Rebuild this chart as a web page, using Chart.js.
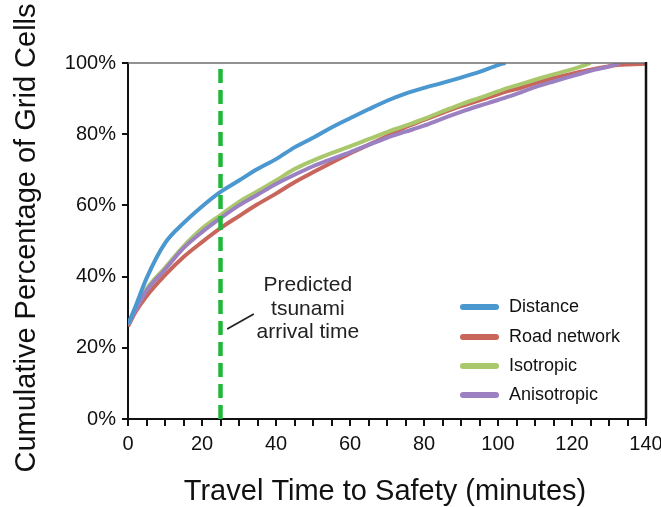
<!DOCTYPE html>
<html lang="en">
<head>
<meta charset="UTF-8">
<title>Travel Time to Safety</title>
<script src="https://cdn.jsdelivr.net/npm/chart.js@4"></script>
<style>
  html, body { margin: 0; padding: 0; background: #fff; }
  #wrap { width: 661px; height: 507px; }
</style>
</head>
<body>
<div id="wrap"><canvas id="myChart"></canvas></div>
<script>
// minutes on x, cumulative % of grid cells on y (null = curve already ended)
const minutes = [0, 2, 5, 10, 15, 20, 25, 30, 35, 40, 45, 50, 55, 60, 65, 70, 75, 80, 85, 90, 95, 100, 102, 105, 110, 115, 120, 124, 125, 130, 133, 135, 140];

const distance = [26.5, 31.5, 39.5, 49.4, 55, 59.7, 63.8, 67, 70.2, 73, 76.3, 79, 81.9, 84.5, 87, 89.4, 91.4, 93, 94.4, 95.9, 97.5, 99.4, 100,
  null, null, null, null, null, null, null, null, null, null];
const roadNetwork = [26, 30, 34.5, 40.4, 45.5, 49.7, 53.6, 57, 60.3, 63.3, 66.5, 69.3, 72, 74.6, 77, 79.5, 82, 84, 86, 87.9, 89.5, 91.2, 91.9,
  92.7, 94.3, 95.8, 97, 97.9, 98.1, 99.1, 99.5, 99.6, 99.8];
const isotropic = [26.5, 31, 36.5, 42.5, 48.5, 53.5, 57.3, 61, 64, 67, 70.2, 72.6, 74.7, 76.6, 78.6, 80.6, 82.4, 84.3, 86.4, 88.4, 90.2, 92, 92.8,
  93.7, 95.3, 96.8, 98.2, 99.6, 100, null, null, null, null];
const anisotropic = [26.5, 30.5, 36, 42, 48, 52.5, 56.4, 60, 63, 66, 68.6, 71, 73, 74.9, 77, 79, 80.7, 82.4, 84.4, 86.3, 88, 89.6, 90.3,
  91.3, 93.2, 94.8, 96.3, 97.5, 97.8, 99, 100, null, null];

const seriesNames = ['Distance', 'Road network', 'Isotropic', 'Anisotropic'];
const seriesColors = ['#4b97cf', '#c9665c', '#a9c76b', '#9b80c2'];

const arrivalTime = 25;   // predicted tsunami arrival (minutes)
const xTicks = [0, 20, 40, 60, 80, 100, 120, 140];

function pts(vals) {
    return minutes.map(function (m, i) { return { x: m, y: vals[i] }; });
}

const FONT = '"Liberation Sans", Arial, Helvetica, sans-serif';
Chart.defaults.font.family = FONT;

const extras = {
    id: 'extras',
    afterDraw(chart) {
        const ctx = chart.ctx;
        const a = chart.chartArea;
        const xs = chart.scales.x, ys = chart.scales.y;
        ctx.save();

        // top border (grey) and right border (black)
        ctx.strokeStyle = '#6e6e6e';
        ctx.lineWidth = 1.5;
        ctx.beginPath();
        ctx.moveTo(a.left, a.top);
        ctx.lineTo(a.right, a.top);
        ctx.stroke();
        ctx.strokeStyle = '#111';
        ctx.lineWidth = 2.5;
        ctx.beginPath();
        ctx.moveTo(a.right, a.top - 1);
        ctx.lineTo(a.right, a.bottom);
        ctx.stroke();

        // axis titles
        ctx.fillStyle = '#111';
        ctx.font = '29px ' + FONT;
        ctx.textAlign = 'center';
        ctx.textBaseline = 'middle';
        ctx.fillText('Travel Time to Safety (minutes)', 385, 492);
        ctx.save();
        ctx.translate(27, 238);
        ctx.rotate(-Math.PI / 2);
        ctx.fillText('Cumulative Percentage of Grid Cells', 0, 0);
        ctx.restore();

        // annotation
        ctx.font = '21px ' + FONT;
        ctx.fillStyle = '#222';
        const tx = xs.getPixelForValue(48.6);
        ctx.fillText('Predicted', tx, ys.getPixelForValue(37.6));
        ctx.fillText('tsunami', tx, ys.getPixelForValue(30.9));
        ctx.fillText('arrival time', tx, ys.getPixelForValue(24.4));
        ctx.strokeStyle = '#222';
        ctx.lineWidth = 1.8;
        ctx.beginPath();
        ctx.moveTo(xs.getPixelForValue(26.8), ys.getPixelForValue(25.3));
        ctx.lineTo(xs.getPixelForValue(34), ys.getPixelForValue(29.5));
        ctx.stroke();

        // legend inside plot
        ctx.font = '18px ' + FONT;
        ctx.textAlign = 'left';
        ctx.lineCap = 'round';
        const rows = [112, 82, 53, 24];
        for (let i = 0; i < seriesNames.length; i++) {
            const y = a.bottom - rows[i];
            ctx.strokeStyle = seriesColors[i];
            ctx.lineWidth = 6;
            ctx.beginPath();
            ctx.moveTo(a.right - 183, y);
            ctx.lineTo(a.right - 150, y);
            ctx.stroke();
            ctx.fillStyle = '#111';
            ctx.fillText(seriesNames[i], a.right - 137, y);
        }
        ctx.restore();
    }
};

const lineStyle = { borderWidth: 4, pointRadius: 0, cubicInterpolationMode: 'monotone', fill: false };

const config = {
    type: 'line',
    data: {
        datasets: [
            { label: 'arrival', data: [{ x: arrivalTime, y: 0 }, { x: arrivalTime, y: 99 }],
              borderColor: '#21b83a', borderWidth: 4.5, borderDash: [14, 7], pointRadius: 0, fill: false },
            Object.assign({ label: seriesNames[0], data: pts(distance), borderColor: seriesColors[0] }, lineStyle),
            Object.assign({ label: seriesNames[3], data: pts(anisotropic), borderColor: seriesColors[3] }, lineStyle),
            Object.assign({ label: seriesNames[2], data: pts(isotropic), borderColor: seriesColors[2] }, lineStyle),
            Object.assign({ label: seriesNames[1], data: pts(roadNetwork), borderColor: seriesColors[1] }, lineStyle)
        ]
    },
    options: {
        responsive: true,
        maintainAspectRatio: false,
        animation: false,
        layout: { padding: { top: 63, right: 15, left: 0, bottom: 0 } },
        plugins: { legend: { display: false }, tooltip: { enabled: false } },
        scales: {
            x: {
                type: 'linear', min: 0, max: 140,
                afterFit: function (s) { s.height = 88; s.paddingLeft = 0; s.paddingRight = 0; },
                afterBuildTicks: function (s) {
                    const t = [];
                    for (let v = 0; v <= 140; v += 5) t.push({ value: v });
                    s.ticks = t;
                },
                ticks: {
                    autoSkip: false, maxRotation: 0, padding: 6, color: '#111',
                    font: { size: 20 },
                    callback: function (v) { return xTicks.indexOf(v) >= 0 ? String(v) : ''; }
                },
                grid: { drawOnChartArea: false, drawTicks: true, tickLength: 7, color: '#111', lineWidth: 2 },
                border: { display: true, color: '#111', width: 2 }
            },
            y: {
                min: 0, max: 100,
                afterFit: function (s) { s.width = 128; s.paddingTop = 0; s.paddingBottom = 0; },
                ticks: { stepSize: 20, padding: 6, color: '#111', font: { size: 20 },
                    callback: function (v) { return v + '%'; } },
                grid: { drawOnChartArea: false, drawTicks: true, tickLength: 6, color: '#111', lineWidth: 2 },
                border: { display: true, color: '#111', width: 2 }
            }
        }
    },
    plugins: [extras]
};

const myChart = new Chart(document.getElementById('myChart'), config);
</script>
</body>
</html>
